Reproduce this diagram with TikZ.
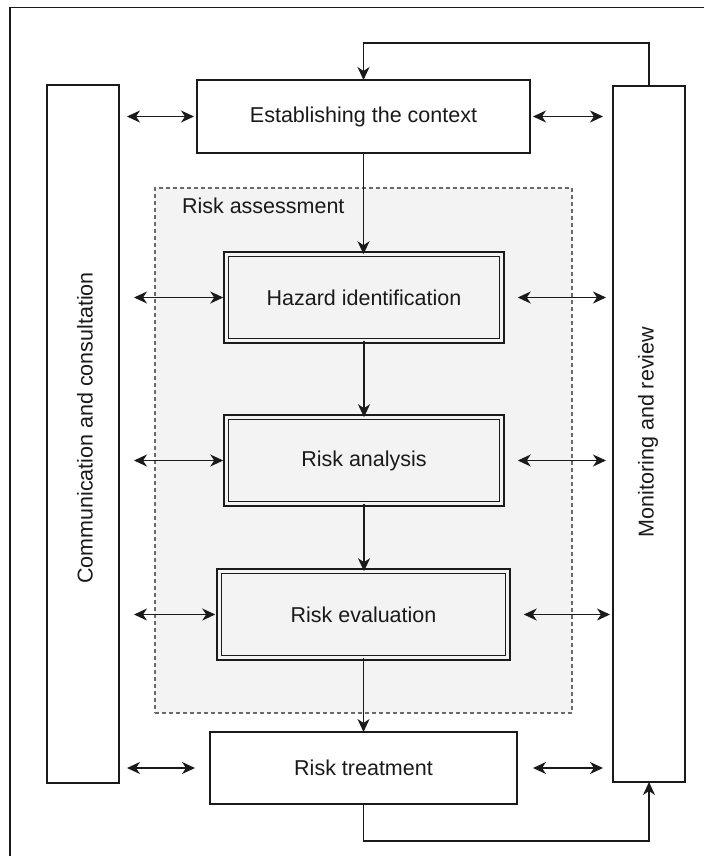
\documentclass[tikz,border=0pt]{standalone}
\usepackage{fontspec}
\setmainfont{Liberation Sans}
\usetikzlibrary{arrows.meta}
\definecolor{ink}{HTML}{1A1A1A}
\definecolor{panel}{HTML}{F3F3F3}
\definecolor{dashgray}{HTML}{6A6A6A}
\begin{document}
\begin{tikzpicture}[x=1pt,y=-1pt,
  every node/.style={font=\fontsize{21.5}{26}\selectfont, text=ink, inner sep=0pt, outer sep=0pt},
  plainbox/.style={draw=ink, line width=1.6pt, fill=white},
  columnbox/.style={draw=ink, line width=1.6pt, fill=white},
  stagebox/.style={draw=ink, line width=1.4pt, double=panel, double distance=3.2pt, fill=panel},
  assessarea/.style={draw=dashgray, line width=1.1pt, dash pattern=on 4pt off 3pt, fill=panel},
  flow/.style={draw=ink, line width=1.7pt, -{Stealth[length=13pt, width=12pt, inset=4pt]}},
  twoway/.style={draw=ink, line width=1.7pt, {Stealth[length=13pt, width=12pt, inset=4pt]}-{Stealth[length=13pt, width=12pt, inset=4pt]}},
  frame/.style={draw=ink, line width=1.6pt}]

\useasboundingbox (0,0) rectangle (704,856);
\fill[white] (0,0) rectangle (704,856);

% outer frame
\draw[frame] (704,7.5) -- (10,7.5) -- (10,856);

% risk assessment area
\node[assessarea, minimum width=417pt, minimum height=525pt] (ra) at (363.5,450.5) {};
\node[anchor=west] (ralabel) at (182,206) {Risk assessment};

% side columns
\node[columnbox, minimum width=72pt, minimum height=698pt] (cc) at (83,434) {};
\node[rotate=90] (cclabel) at (85,428) {Communication and consultation};
\node[columnbox, minimum width=72pt, minimum height=696pt] (mr) at (649,434) {};
\node[rotate=90] (mrlabel) at (648,432) {Monitoring and review};

% process steps
\node[plainbox, minimum width=333pt, minimum height=73pt] (ctx) at (363.5,116.5) {Establishing the context};
\node[stagebox, minimum width=275.5pt, minimum height=86.5pt] (haz) at (364,297.5) {Hazard identification};
\node[stagebox, minimum width=275.5pt, minimum height=86.5pt] (ana) at (364,460.5) {Risk analysis};
\node[stagebox, minimum width=288.5pt, minimum height=86.5pt] (eva) at (363.5,614.5) {Risk evaluation};
\node[plainbox, minimum width=307pt, minimum height=72pt] (trt) at (363.5,768) {Risk treatment};

% main flow
\draw[flow] (ctx.south) -- (ctx.south |- haz.north);
\draw[flow] (haz.south) -- (haz.south |- ana.north);
\draw[flow] (ana.south) -- (ana.south |- eva.north);
\draw[flow] (eva.south) -- (eva.south |- trt.north);

% feedback loops
\coordinate (topy) at (0,43);
\coordinate (boty) at (0,841);
\draw[flow] (mr.north) |- (topy -| ctx.north) -- (ctx.north);
\draw[flow] (trt.south) |- (boty -| mr.south) -- (mr.south);

% communication links
\draw[twoway] ([xshift=8pt]cc.east |- ctx.west) -- ([xshift=-3pt]ctx.west);
\draw[twoway] ([xshift=15pt]cc.east |- haz.west) -- ([xshift=-3pt]haz.west);
\draw[twoway] ([xshift=15pt]cc.east |- ana.west) -- ([xshift=-3pt]ana.west);
\draw[twoway] ([xshift=15pt]cc.east |- eva.west) -- ([xshift=-4pt]eva.west);
\draw[twoway] ([xshift=8pt]cc.east |- trt.west) -- ([xshift=-15pt]trt.west);

% monitoring links
\draw[twoway] ([xshift=3pt]ctx.east) -- ([xshift=-10pt]mr.west |- ctx.east);
\draw[twoway] ([xshift=16pt]haz.east) -- ([xshift=-7pt]mr.west |- haz.east);
\draw[twoway] ([xshift=16pt]ana.east) -- ([xshift=-7pt]mr.west |- ana.east);
\draw[twoway] ([xshift=16pt]eva.east) -- ([xshift=-3pt]mr.west |- eva.east);
\draw[twoway] ([xshift=16pt]trt.east) -- ([xshift=-10pt]mr.west |- trt.east);
\end{tikzpicture}
\end{document}
